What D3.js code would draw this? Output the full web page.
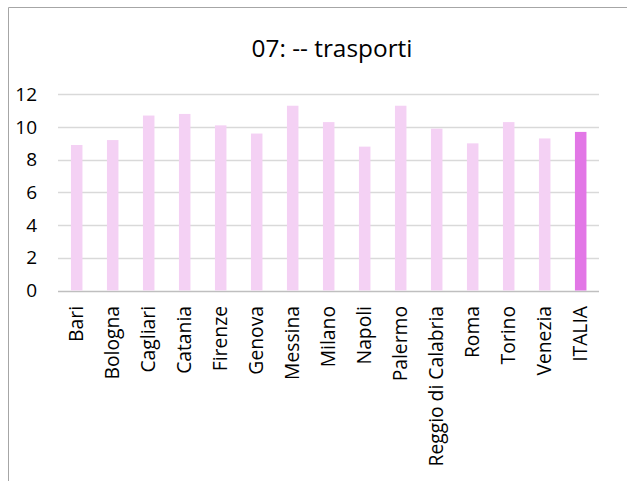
<!DOCTYPE html>
<html>
<head>
<meta charset="utf-8">
<script src="https://cdn.jsdelivr.net/npm/d3@7"></script>
<style>
  body { margin: 0; background: #fff; }
  text { font-family: "Open Sans", sans-serif; fill: #000; }
</style>
</head>
<body>
<div id="chart"></div>
<script>

var cities = ["Bari", "Bologna", "Cagliari", "Catania", "Firenze", "Genova", "Messina", "Milano",
    "Napoli", "Palermo", "Reggio di Calabria", "Roma", "Torino", "Venezia", "ITALIA"]

var values = [8.9, 9.2, 10.7, 10.8, 10.1, 9.6, 11.3, 10.3, 8.8, 11.3, 9.9, 9.0, 10.3, 9.3, 9.7]

var yTicks = [0, 2, 4, 6, 8, 10, 12]

var title = "07: -- trasporti"

var width = 627, height = 481

var svg = d3.select("#chart").append("svg")
    .attr("width", width)
    .attr("height", height)

// chart frame (only left and top edges fall inside the picture)
svg.append("path")
    .attr("d", "M8.5," + height + "V7.5H" + width)
    .attr("fill", "none")
    .attr("stroke", "#a6a6a6")
    .attr("stroke-width", 1)

var x = d3.scaleBand()
    .domain(cities)
    .range([58.7, 598.7])
    .paddingInner(0.68)
    .paddingOuter(0.34)

var y = d3.scaleLinear()
    .domain([0, 12])
    .range([290.5, 94.3])

// gridlines
svg.append("g")
    .selectAll("line")
    .data(yTicks)
    .join("line")
    .attr("x1", 58)
    .attr("x2", 599)
    .attr("y1", d => Math.round(y(d)) + 0.5)
    .attr("y2", d => Math.round(y(d)) + 0.5)
    .attr("stroke", d => d === 0 ? "#bfbfbf" : "#d9d9d9")
    .attr("stroke-width", 1.3)

// y axis labels
var yAxis = svg.append("g")
    .attr("transform", "translate(37,0)")
    .call(d3.axisLeft(y).tickValues(yTicks).tickSize(0).tickPadding(0))

yAxis.select(".domain").remove()
yAxis.selectAll("text")
    .style("font-family", "Open Sans, sans-serif")
    .style("font-size", "19px")
    .attr("fill", "#000")

// bars
svg.append("g")
    .selectAll("rect")
    .data(values)
    .join("rect")
    .attr("x", (d, i) => x(cities[i]))
    .attr("width", x.bandwidth())
    .attr("y", d => y(d))
    .attr("height", d => y(0) - y(d))
    .attr("fill", (d, i) => cities[i] === "ITALIA" ? "#e277e6" : "#f4d1f4")

// category labels
svg.append("g")
    .selectAll("text")
    .data(cities)
    .join("text")
    .attr("transform", d => "translate(" + (x(d) + x.bandwidth() / 2) + ",306) rotate(-90)")
    .attr("text-anchor", "end")
    .attr("dy", "0.35em")
    .style("font-size", "19.3px")
    .text(d => d)

// title
svg.append("text")
    .attr("x", 332)
    .attr("y", 57)
    .attr("text-anchor", "middle")
    .style("font-size", "24.4px")
    .text(title)

</script>
</body>
</html>
